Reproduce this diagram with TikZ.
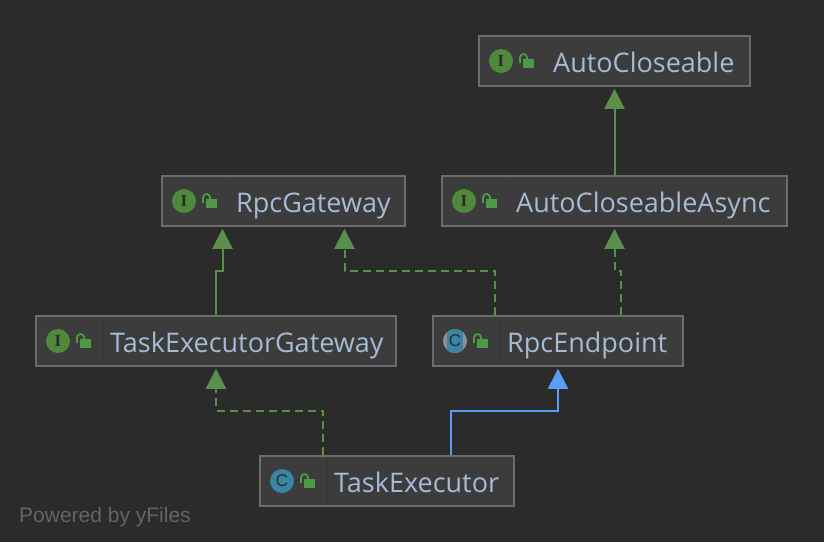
\documentclass[tikz,border=0pt]{standalone}
\usepackage{fontspec}
\setmainfont{Open Sans}
\newfontfamily\yfont{Liberation Sans}
\newfontfamily\iconserif{Liberation Serif}
\usetikzlibrary{arrows.meta}

\definecolor{pagebg}{HTML}{2B2B2B}
\definecolor{boxbg}{HTML}{3C3C3C}
\definecolor{boxline}{HTML}{6C6C6C}
\definecolor{sepline}{HTML}{363636}
\definecolor{labeltext}{HTML}{A6BBD6}
\definecolor{ifacegreen}{HTML}{4F8A3C}
\definecolor{lockgreen}{HTML}{4C9A45}
\definecolor{classblue}{HTML}{3A84A4}
\definecolor{abstractgrey}{HTML}{8A9094}
\definecolor{edgegreen}{HTML}{5A8F4C}
\definecolor{edgeblue}{HTML}{589DF6}
\definecolor{footertext}{HTML}{646464}

\tikzset{
  typebox/.style={draw=boxline, fill=boxbg, line width=1.5pt, minimum height=50pt,
    inner sep=0pt, anchor=north west, xshift=-.75pt, yshift=.75pt},
  typelabel/.style={text=labeltext, font=\fontsize{27}{27}\selectfont, inner sep=0pt, anchor=base west},
  typeicon/.style={circle, minimum size=24pt, inner sep=0pt},
  iconletter/.style={text=pagebg, inner sep=0pt},
  extends/.style={draw=edgegreen, line width=2pt, -{Triangle[length=20pt,width=20pt]}, shorten >=2pt},
  implements/.style={extends, dash pattern=on 8pt off 5pt},
  extendsclass/.style={draw=edgeblue, line width=1.8pt, -{Triangle[length=20pt,width=20pt]}, shorten >=2pt},
}

% box, separator, lock and label; #5 is the icon
\newcommand\typenode[6]{
  \node[typebox, minimum width=#4pt] (#1) at (#2,#3) {};
  \draw[sepline] (#2+67,#3+1) -- (#2+67,#3+48);
  #5
  \fill[lockgreen] (#2+44,#3+23) rectangle (#2+55,#3+32);
  \draw[lockgreen, line width=1.8pt] (#2+41,#3+27) -- (#2+41,#3+21.5)
    arc[start angle=180, end angle=0, radius=3.5pt] -- (#2+48,#3+24);
  \node[typelabel] (#1label) at (#2+74,#3+36) {#6};
}
\newcommand\ifaceicon[3]{
  \node[typeicon, fill=ifacegreen] (#1icon) at (#2+22,#3+25) {};
  \node[iconletter, font=\fontsize{17}{17}\bfseries\iconserif] (#1letter) at (#2+22,#3+25) {I};
}
\newcommand\classicon[3]{
  \node[typeicon, fill=classblue] (#1icon) at (#2+22,#3+25) {};
  \node[iconletter, font=\fontsize{17}{17}\yfont] (#1letter) at (#2+22,#3+25) {C};
}
\newcommand\abstracticon[3]{
  \node[typeicon, fill=abstractgrey] (#1icon) at (#2+22,#3+25) {};
  \begin{scope}
    \clip (#2+22,#3+25) circle (12pt);
    \fill[classblue] (#2+14,#3+12) rectangle (#2+30,#3+38);
  \end{scope}
  \node[iconletter, font=\fontsize{17}{17}\yfont] (#1letter) at (#2+22,#3+25) {C};
}

\begin{document}
\begin{tikzpicture}[x=1pt, y=-1pt]

  \fill[pagebg] (0,0) rectangle (824,542);
  \useasboundingbox (0,0) rectangle (824,542);

  \typenode{autocloseable}{479}{36}{271}{\ifaceicon{autocloseable}{479}{36}}{AutoCloseable}
  \typenode{autocloseableasync}{442}{176}{345}{\ifaceicon{autocloseableasync}{442}{176}}{AutoCloseableAsync}
  \typenode{rpcgateway}{162}{176}{243}{\ifaceicon{rpcgateway}{162}{176}}{RpcGateway}
  \typenode{taskexecutorgateway}{36}{316}{360}{\ifaceicon{taskexecutorgateway}{36}{316}}{TaskExecutorGateway}
  \typenode{rpcendpoint}{433}{316}{250}{\abstracticon{rpcendpoint}{433}{316}}{RpcEndpoint}
  \typenode{taskexecutor}{260}{456}{254}{\classicon{taskexecutor}{260}{456}}{TaskExecutor}

  \draw[extends] (autocloseableasync.north) -- (autocloseable.south);

  \draw[extends] (taskexecutorgateway.north)
    -- ++(0,-44.5) -| ([xshift=-61pt]rpcgateway.south);
  \draw[implements] ([xshift=-63pt]rpcendpoint.north)
    -- ++(0,-44.5) -| ([xshift=61pt]rpcgateway.south);
  \draw[implements] ([xshift=63pt]rpcendpoint.north)
    -- ++(0,-44.5) -| (autocloseableasync.south);
  \draw[implements] ([xshift=-64pt]taskexecutor.north)
    -- ++(0,-44.5) -| (taskexecutorgateway.south);
  \draw[extendsclass] ([xshift=64pt]taskexecutor.north)
    -- ++(0,-44.5) -| (rpcendpoint.south);

  \node[text=footertext, font=\fontsize{21}{21}\yfont, anchor=base west, inner sep=0pt] (poweredby) at (19,522) {Powered by yFiles};

\end{tikzpicture}
\end{document}
